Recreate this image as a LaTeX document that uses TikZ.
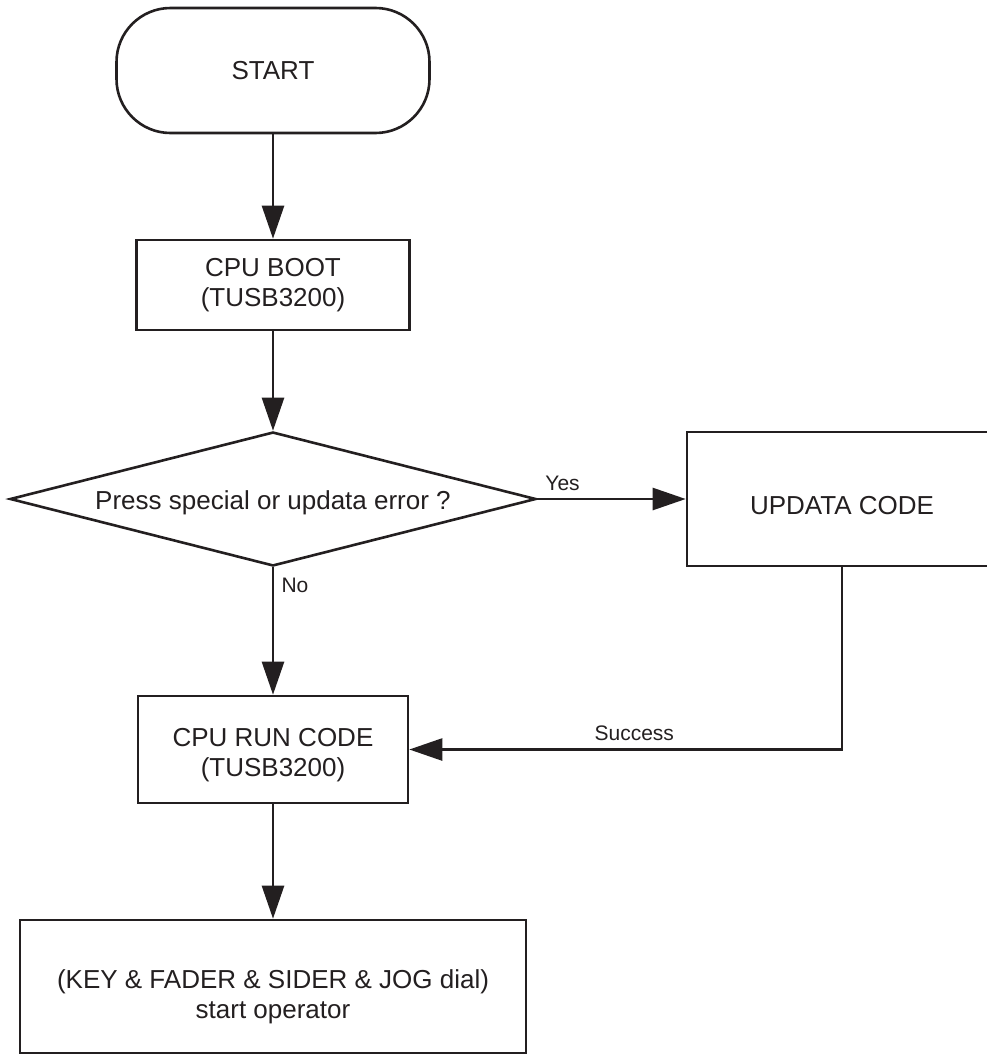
\documentclass[tikz,border=0pt]{standalone}
\usepackage{fontspec}
\setmainfont{Liberation Sans}
\usetikzlibrary{shapes.geometric,arrows.meta}
\definecolor{ink}{RGB}{35,31,32}
\begin{document}
\begin{tikzpicture}[x=1pt,y=-1pt,
  color=ink, line width=2.6pt,
  every node/.style={font=\fontsize{26}{30}\selectfont, align=center, inner sep=0pt, text=ink},
  box/.style={draw=ink, line width=2.6pt, rectangle},
  lbl/.style={font=\fontsize{21}{24}\selectfont},
  arr/.style={draw=ink, line width=2.6pt, -{Triangle[length=33pt,width=22pt]}}]
\useasboundingbox (0,0) rectangle (987,1055);
\node[box, rounded corners=54pt, minimum width=313pt, minimum height=125pt] (start) at (273,70.5) {START};
\node[box, minimum width=273pt, minimum height=90pt] (boot) at (273,285) {CPU BOOT\\(TUSB3200)};
\node[draw=ink, line width=2.6pt, diamond, shape aspect=3.93, minimum width=526pt, minimum height=134pt] (dec) at (273,499) {\rule{0pt}{27pt}Press special or updata error ?};
\node[box, minimum width=310pt, minimum height=134pt] (upd) at (842,499) {\rule{0pt}{31pt}UPDATA CODE};
\node[box, minimum width=270pt, minimum height=107pt] (run) at (273,749.5) {\rule{0pt}{29pt}CPU RUN CODE\\(TUSB3200)};
\node[box, minimum width=506pt, minimum height=133pt] (fin) at (273,986.5) {\rule{0pt}{39pt}(KEY \& FADER \& SIDER \& JOG dial)\\start operator};
\draw[arr] (start) -- (boot);
\draw[arr] (boot) -- (dec);
\draw[arr] (dec) -- node[lbl, pos=0.17, yshift=16pt]{Yes} (upd);
\draw[arr] (dec) -- node[lbl, pos=0.14, xshift=22pt]{No} (run);
\draw[arr] (upd.south) |- node[lbl, pos=0.74, yshift=16.5pt]{Success} (run.east);
\draw[arr] (run) -- (fin);
\end{tikzpicture}
\end{document}
